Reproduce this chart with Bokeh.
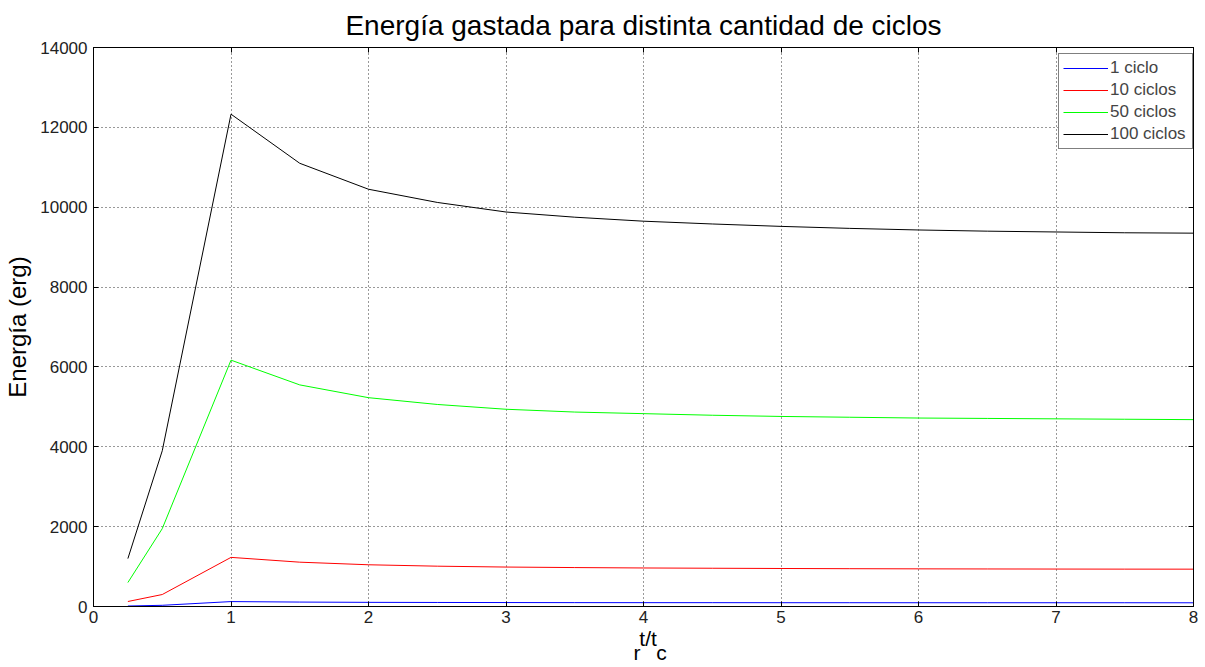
from bokeh.plotting import figure
from bokeh.models import (Range1d, LinearAxis, Legend, LegendItem, FixedTicker, Title)
from bokeh.embed import file_html
from bokeh.resources import INLINE

# ---- data ----
ratio = [0.25, 0.5, 1, 1.5, 2, 2.5, 3, 3.5, 4, 4.5, 5, 5.5, 6, 6.5, 7, 7.5, 8]
e_1 = [12, 30, 123, 111, 104, 101, 99, 97, 96, 96, 95, 95, 94, 94, 94, 94, 93]
e_10 = [125, 300, 1230, 1110, 1045, 1010, 988, 975, 965, 958, 952, 947, 943, 940, 938, 936, 935]
e_50 = [600, 1950, 6170, 5550, 5230, 5060, 4940, 4870, 4830, 4790, 4760, 4740, 4720, 4710, 4700, 4690, 4680]
e_100 = [1200, 3900, 12330, 11100, 10450, 10120, 9880, 9750, 9650, 9580, 9520, 9470, 9430, 9400, 9380, 9360, 9350]
series_names = ["1 ciclo", "10 ciclos", "50 ciclos", "100 ciclos"]
series_colors = ["#0000ff", "#ff0000", "#00ff00", "#000000"]
x_ticks = [0, 1, 2, 3, 4, 5, 6, 7, 8]
y_ticks = [0, 2000, 4000, 6000, 8000, 10000, 12000, 14000]

FONT = "Liberation Sans"

p = figure(width=1205, height=667, output_backend="svg", toolbar_location=None,
           x_range=Range1d(0, 8), y_range=Range1d(0, 14000),
           min_border_left=93, min_border_right=12, min_border_top=47, min_border_bottom=61,
           background_fill_color="white", border_fill_color="white")

p.title = Title(text="Energía gastada para distinta cantidad de ciclos", align="center",
                text_font=FONT, text_font_size="28px", text_font_style="normal",
                text_color="black", offset=0, standoff=13)

p.outline_line_color = "black"
p.outline_line_width = 1

for ax in [p.xaxis[0], p.yaxis[0]]:
    ax.major_tick_in = 5
    ax.major_tick_out = 0
    ax.minor_tick_line_color = None
    ax.axis_line_color = "black"
    ax.major_tick_line_color = "black"
    ax.major_label_text_font = FONT
    ax.major_label_text_font_size = "17px"
    ax.major_label_text_color = "#222222"
p.xaxis[0].ticker = FixedTicker(ticks=x_ticks)
p.yaxis[0].ticker = FixedTicker(ticks=y_ticks)
p.xaxis[0].major_label_standoff = 4
p.yaxis[0].major_label_standoff = 6
p.yaxis[0].axis_label = "Energía (erg)"
p.yaxis[0].axis_label_text_font = FONT
p.yaxis[0].axis_label_text_font_size = "24px"
p.yaxis[0].axis_label_text_font_style = "normal"
p.yaxis[0].axis_label_text_color = "black"
p.yaxis[0].axis_label_standoff = 6

top = LinearAxis(ticker=FixedTicker(ticks=x_ticks), major_tick_in=5, major_tick_out=0,
                 minor_tick_line_color=None, major_label_text_font_size="0px",
                 major_label_text_color=None, major_label_standoff=0)
right = LinearAxis(ticker=FixedTicker(ticks=y_ticks), major_tick_in=5, major_tick_out=0,
                   minor_tick_line_color=None, major_label_text_font_size="0px",
                   major_label_text_color=None, major_label_standoff=0)
p.add_layout(top, "above")
p.add_layout(right, "right")

# x-axis label  t_r / t_c  (two lines: main letters, then subscripts)
NB = "\u00a0"
xlabel = Title(text=NB + "t/t\n" + "r" + NB + NB + "\u2009c", align="left", offset=540,
               text_font=FONT, text_font_size="21px", text_font_style="normal",
               text_color="black", text_line_height=0.62, standoff=0)
p.add_layout(xlabel, "below")

p.xgrid.ticker = FixedTicker(ticks=x_ticks)
p.ygrid.ticker = FixedTicker(ticks=y_ticks)
for g in [p.xgrid[0], p.ygrid[0]]:
    g.grid_line_color = "black"
    g.grid_line_dash = "1 3"
    g.grid_line_width = 1
    g.grid_line_alpha = 0.8

renderers = []
for ys, c in zip([e_1, e_10, e_50, e_100], series_colors):
    r = p.line(ratio, ys, line_color=c, line_width=1)
    renderers.append(r)

legend = Legend(items=[LegendItem(label=n, renderers=[r]) for n, r in zip(series_names, renderers)],
                margin=0, padding=4, spacing=2,
                glyph_width=45, glyph_height=18, label_height=18, label_standoff=2, label_width=78,
                label_text_font=FONT, label_text_font_size="17px",
                border_line_color="black", border_line_width=1,
                background_fill_color="white", background_fill_alpha=1)
legend.location = (965, 457)
p.add_layout(legend)

open("out.html", "w").write(file_html(p, INLINE))
